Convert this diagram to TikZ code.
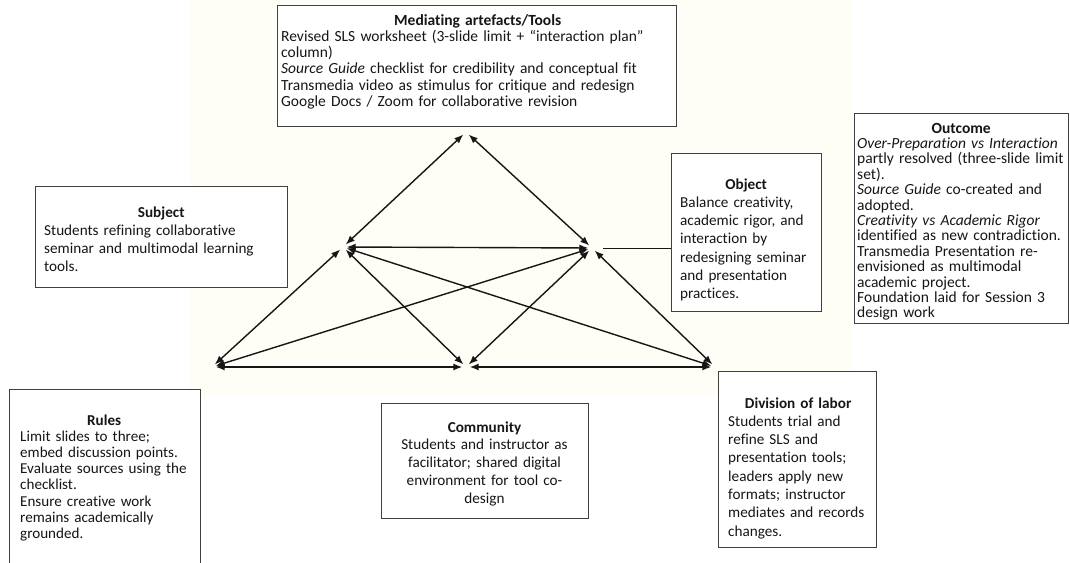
\documentclass[tikz,border=0pt]{standalone}
\usepackage{fontspec}
\setmainfont{Carlito}[Ligatures=NoCommon]
\usetikzlibrary{arrows.meta}
\definecolor{paper}{RGB}{254,253,246}
\definecolor{ink}{RGB}{22,22,22}
\definecolor{frame}{RGB}{64,64,64}
% centred bold heading line inside a left-aligned text block
\newcommand{\boxhead}[1]{\makebox[\linewidth][c]{\bfseries #1}}

\begin{document}
\begin{tikzpicture}[x=1pt,y=-1pt,
  panel/.style={draw=frame, line width=1.1pt, fill=white, anchor=north west, inner sep=0pt},
  body/.style={anchor=base west, inner sep=0pt, align=left, text=ink},
  tight/.style={font=\fontsize{15.5}{16.3}\selectfont},
  loose/.style={font=\fontsize{15.2}{18.3}\selectfont},
  vert/.style={circle, inner sep=0pt, minimum size=7pt},
  rel/.style={draw=ink, line width=1.4pt,
              {Latex[length=9pt,width=7pt]}-{Latex[length=9pt,width=7pt]}},
]
\useasboundingbox (0,0) rectangle (1070,562);
\clip (0,0) rectangle (1070,562);
\fill[white] (0,0) rectangle (1070,562);
\fill[paper] (190,0) rectangle (852,396);

% ---- activity-system triangle ----
\node[vert] (T)  at (466,132) {};
\node[vert] (SL) at (343,247) {};
\node[vert] (OB) at (592,248) {};
\node[vert] (R)  at (212,367) {};
\node[vert] (C)  at (466,367) {};
\node[vert] (D)  at (715,367) {};

\draw[rel] (T) -- (SL);
\draw[rel] (T) -- (OB);
\draw[rel] (SL) -- (OB);
\draw[rel] (SL) -- (R);
\draw[rel] (SL) -- (C);
\draw[rel] (SL) -- (D);
\draw[rel] (OB) -- (R);
\draw[rel] (OB) -- (C);
\draw[rel] (OB) -- (D);
\draw[rel] (R) -- (C);
\draw[rel] (C) -- (D);

% ---- Mediating artefacts ----
\node[panel, minimum width=399pt, minimum height=121pt] (toolsbox) at (277,5) {};
\node[body, tight, text width=393pt] (toolstext) at (281,25) {\boxhead{Mediating artefacts/Tools}\\
Revised SLS worksheet (3-slide limit + “interaction plan”\\
column)\\
\textit{Source Guide} checklist for credibility and conceptual fit\\
Transmedia video as stimulus for critique and redesign\\
Google Docs / Zoom for collaborative revision};

% ---- Subject ----
\node[panel, minimum width=252pt, minimum height=101pt] (subjbox) at (35,186) {};
\node[body, loose, text width=234pt] (subjtext) at (44,217) {\boxhead{Subject}\\
Students refining collaborative\\
seminar and multimodal learning\\
tools.};

% ---- Object ----
\node[panel, minimum width=150pt, minimum height=158pt] (objbox) at (671,153) {};
\node[body, loose, text width=132pt] (objtext) at (680,189) {\boxhead{Object}\\
Balance creativity,\\
academic rigor, and\\
interaction by\\
redesigning seminar\\
and presentation\\
practices.};
\coordinate (objlink) at (603,248);
\draw[draw=ink, line width=0.9pt] (objlink) -- (objlink -| objbox.west);

% ---- Outcome ----
\node[panel, minimum width=214pt, minimum height=210pt] (outbox) at (854,113) {};
\node[body, font=\fontsize{15.5}{15.4}\selectfont, text width=208pt] (outtext) at (857,133) {\boxhead{Outcome}\\
\textit{Over-Preparation vs Interaction}\\
partly resolved (three-slide limit\\
set).\\
\textit{Source Guide} co-created and\\
adopted.\\
\textit{Creativity vs Academic Rigor}\\
identified as new contradiction.\\
Transmedia Presentation re-\\
envisioned as multimodal\\
academic project.\\
Foundation laid for Session 3\\
design work};

% ---- Rules ----
\node[panel, minimum width=191pt, minimum height=200pt] (rulebox) at (9,389) {};
\node[body, font=\fontsize{15.1}{16.2}\selectfont, text width=168pt] (ruletext) at (20,425) {\boxhead{Rules}\\
Limit slides to three;\\
embed discussion points.\\
Evaluate sources using the\\
checklist.\\
Ensure creative work\\
remains academically\\
grounded.};

% ---- Community ----
\node[panel, minimum width=207pt, minimum height=115pt] (commbox) at (381,403) {};
\node[body, anchor=base, align=center, font=\fontsize{15.2}{17.9}\selectfont, text width=200pt] (commtext) at (484.5,432) {{\bfseries Community}\\
Students and instructor as\\
facilitator; shared digital\\
environment for tool co-\\
design};

% ---- Division of labor ----
\node[panel, minimum width=158pt, minimum height=176pt] (divbox) at (718,371) {};
\node[body, loose, text width=140pt] (divtext) at (728,408) {\boxhead{Division of labor}\\
Students trial and\\
refine SLS and\\
presentation tools;\\
leaders apply new\\
formats; instructor\\
mediates and records\\
changes.};
\end{tikzpicture}
\end{document}
